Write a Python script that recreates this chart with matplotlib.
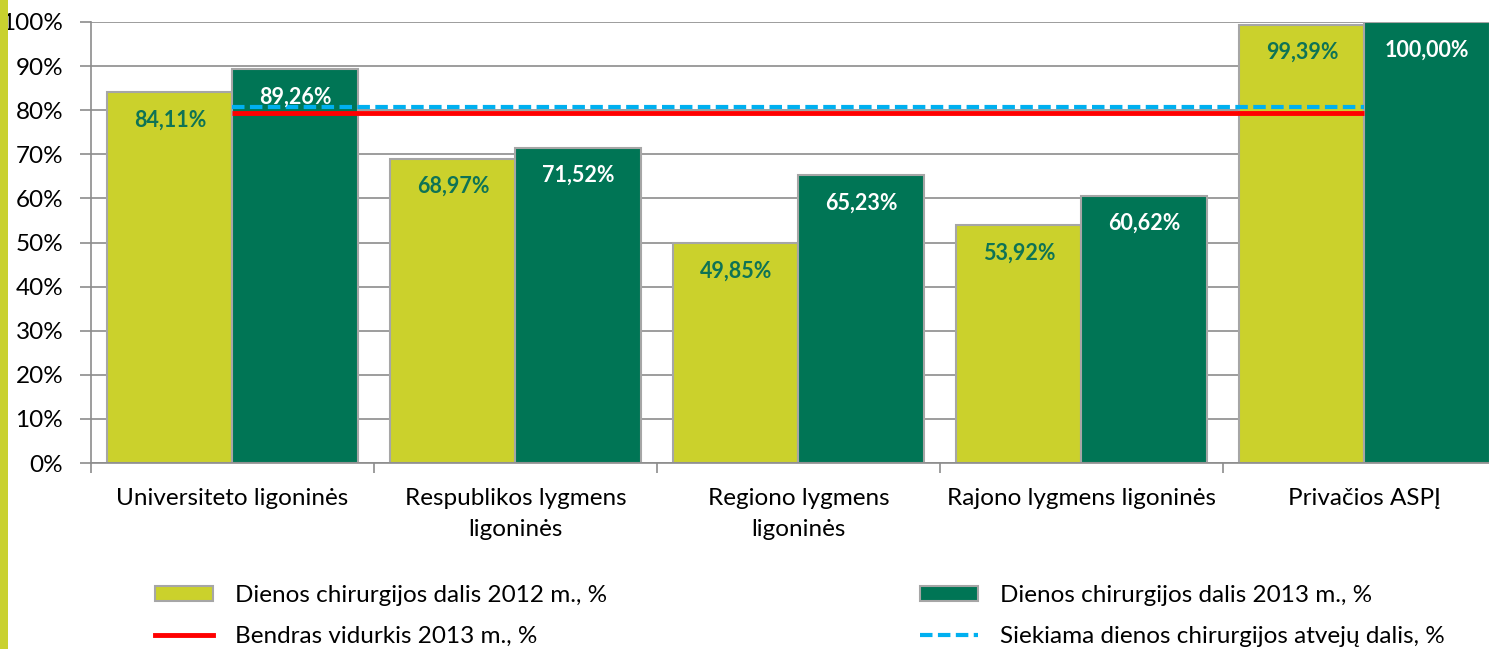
import matplotlib
matplotlib.use("Agg")
import matplotlib.pyplot as plt
from matplotlib.patches import Patch, Rectangle
from matplotlib.lines import Line2D
import numpy as np

categories = ["Universiteto ligoninės", "Respublikos lygmens\nligoninės",
              "Regiono lygmens\nligoninės", "Rajono lygmens ligoninės", "Privačios ASPĮ"]
share_2012 = [84.11, 68.97, 49.85, 53.92, 99.39]
share_2013 = [89.26, 71.52, 65.23, 60.62, 100.00]
average_2013 = [79.3, 79.3, 79.3, 79.3, 79.3]
target = [80.65, 80.65, 80.65, 80.65, 80.65]
labels_2012 = ["84,11%", "68,97%", "49,85%", "53,92%", "99,39%"]
labels_2013 = ["89,26%", "71,52%", "65,23%", "60,62%", "100,00%"]
yticks = [0, 10, 20, 30, 40, 50, 60, 70, 80, 90, 100]
legend_labels = ["Dienos chirurgijos dalis 2012 m., %", "Dienos chirurgijos dalis 2013 m., %",
                 "Bendras vidurkis 2013 m., %", "Siekiama dienos chirurgijos atvejų dalis, %"]

YELLOW = "#cbd12c"
GREEN = "#007555"
EDGE = "#a6a6a6"
FONT = "Lato"
FS = 17.5

plt.rcParams['font.family'] = [FONT, 'DejaVu Sans']

W, H = 1489, 649
fig = plt.figure(figsize=(W / 100, H / 100), dpi=100)
fig.patch.set_facecolor("white")
fig.patches.append(Rectangle((0, 0), 8 / W, 1, transform=fig.transFigure,
                             facecolor="#c9d12f", edgecolor="none"))

ax = fig.add_axes([91 / W, (H - 463) / H, 1415 / W, 441 / H])
x = np.arange(len(categories))
bw = 0.442
ax.bar(x - bw / 2, share_2012, bw, color=YELLOW, edgecolor=EDGE, linewidth=1.5, zorder=2)
ax.bar(x + bw / 2, share_2013, bw, color=GREEN, edgecolor=EDGE, linewidth=1.5, zorder=2)
ax.plot(x, average_2013, color="#ff0000", linewidth=3.5, zorder=4, solid_capstyle="butt")
ax.plot(x, target, color="#00b0f0", linewidth=3, linestyle=(0, (3, 1.3)), zorder=3)

for i in range(len(categories)):
    ax.annotate(labels_2012[i], (x[i] - bw / 2, share_2012[i]), xytext=(0, -20),
                textcoords="offset points", ha="center", va="center",
                fontsize=15.5, fontweight="bold", color="#0e7355", zorder=5)
    ax.annotate(labels_2013[i], (x[i] + bw / 2, share_2013[i]), xytext=(0, -20),
                textcoords="offset points", ha="center", va="center",
                fontsize=15.5, fontweight="bold", color="white", zorder=5)

ax.set_xlim(-0.5, 4.5)
ax.set_ylim(0, 100)
ax.set_yticks(yticks)
ax.set_yticklabels([f"{v}%" for v in yticks], fontsize=FS)
ax.yaxis.grid(True, color="#8c8c8c", linewidth=1.2, zorder=0)
ax.set_axisbelow(True)
ax.set_xticks(np.arange(-0.5, 5, 1))
ax.set_xticklabels([])
ax.set_xticks(x, minor=True)
ax.set_xticklabels(categories, minor=True, fontsize=FS, linespacing=1.6)
ax.tick_params(axis="x", which="minor", length=0, pad=18)
ax.tick_params(axis="x", which="major", length=7, width=1.2, color="#8c8c8c")
ax.tick_params(axis="y", length=8, width=1.2, color="#8c8c8c", pad=12)
for s in ["top", "right"]:
    ax.spines[s].set_visible(False)
for s in ["left", "bottom"]:
    ax.spines[s].set_color("#8c8c8c")
    ax.spines[s].set_linewidth(1.2)

h_y = Patch(facecolor=YELLOW, edgecolor=EDGE, linewidth=1.5)
h_g = Patch(facecolor=GREEN, edgecolor=EDGE, linewidth=1.5)
h_r = Line2D([], [], color="#ff0000", linewidth=3.5)
h_b = Line2D([], [], color="#00b0f0", linewidth=3, linestyle=(0, (3, 1.3)))

common = dict(frameon=False, fontsize=FS, handlelength=2.4, handleheight=0.6,
              handletextpad=0.9, labelspacing=0.8, borderpad=0, borderaxespad=0,
              loc="center left")
leg1 = fig.legend([h_y, h_r], legend_labels[0::2], bbox_to_anchor=(155 / W, 1 - 616 / H), **common)
leg2 = fig.legend([h_g, h_b], legend_labels[1::2], bbox_to_anchor=(920 / W, 1 - 616 / H), **common)

fig.savefig("out.png", dpi=100)
